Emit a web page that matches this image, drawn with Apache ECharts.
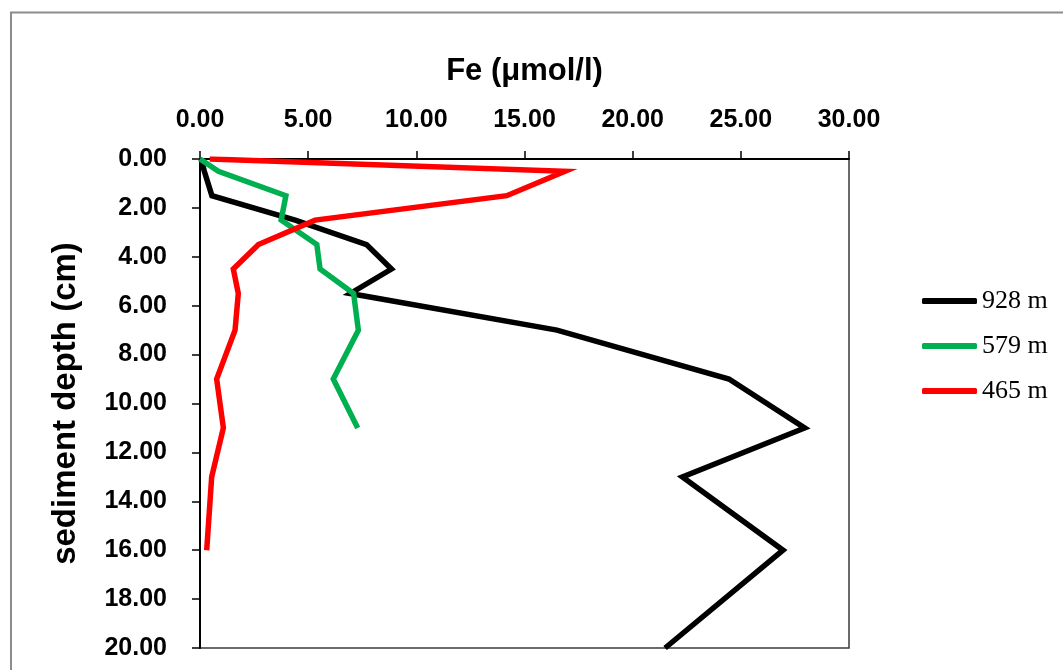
<!DOCTYPE html>
<html>
<head>
<meta charset="utf-8">
<script src="https://cdn.jsdelivr.net/npm/echarts@6/dist/echarts.min.js"></script>
<style>
html,body{margin:0;padding:0;background:#fff;}
#chart{width:1063px;height:670px;}
</style>
</head>
<body>
<div id="chart"></div>
<script>
// Sediment depth (cm) for each sample
var depths = [0, 0.5, 1.5, 2.5, 3.5, 4.5, 5.5, 7, 9, 11, 13, 16, 20];
// Fe (µmol/l) per station
var seriesNames = ['928 m', '579 m', '465 m'];
var fe928 = [0.05, 0.2, 0.55, 4.4, 7.7, 8.85, 6.95, 16.5, 24.45, 27.95, 22.3, 26.95, 21.5];
var fe579 = [0, 0.85, 3.97, 3.75, 5.4, 5.55, 7.1, 7.32, 6.16, 7.29];
var fe465 = [0.45, 16.87, 14.18, 5.32, 2.7, 1.54, 1.77, 1.62, 0.77, 1.08, 0.54, 0.31];
var xTicks = [0, 5, 10, 15, 20, 25, 30];
var yTicks = [0, 2, 4, 6, 8, 10, 12, 14, 16, 18, 20];

function pairs(vals) {
  return vals.map(function (v, i) { return [v, depths[i]]; });
}
var colors = ['#000000', '#00B050', '#FF0000'];
var allVals = [fe928, fe579, fe465];

var chart = echarts.init(document.getElementById('chart'), null, {renderer: 'canvas'});
var sans = 'Liberation Sans, Arial, sans-serif';
chart.setOption({
  animation: false,
  backgroundColor: '#fff',
  grid: {left: 200, top: 159, right: 214, bottom: 22, show: true, borderColor: '#3a3a3a', borderWidth: 1.5, backgroundColor: 'transparent'},
  legend: {
    orient: 'vertical', left: 922, top: 288, padding: 0, itemWidth: 55, itemHeight: 6, itemGap: 19,
    icon: 'roundRect',
    textStyle: {fontFamily: 'Liberation Serif, Times New Roman, serif', fontSize: 26, color: '#000'},
    data: seriesNames
  },
  xAxis: {
    type: 'value', position: 'top', min: xTicks[0], max: xTicks[xTicks.length - 1], interval: 5,
    name: 'Fe (\u03bcmol/l)', nameLocation: 'middle', nameGap: 72,
    nameTextStyle: {fontFamily: sans, fontWeight: 'bold', fontSize: 31, color: '#000'},
    axisLine: {show: true, lineStyle: {color: '#000', width: 2}},
    axisTick: {show: true, inside: false, length: 8, lineStyle: {color: '#000', width: 1.5}},
    axisLabel: {margin: 26, fontFamily: sans, fontWeight: 'bold', fontSize: 25, color: '#000',
      formatter: function (v) { return v.toFixed(2); }},
    splitLine: {show: false}
  },
  yAxis: {
    type: 'value', inverse: true, min: yTicks[0], max: yTicks[yTicks.length - 1], interval: 2,
    name: 'sediment depth (cm)', nameLocation: 'middle', nameGap: 118, nameRotate: 90,
    nameTextStyle: {fontFamily: sans, fontWeight: 'bold', fontSize: 33, color: '#000', padding: [0, 0, 0, 0]},
    axisLine: {show: true, lineStyle: {color: '#000', width: 2}},
    axisTick: {show: true, inside: false, length: 8, lineStyle: {color: '#000', width: 1.5}},
    axisLabel: {margin: 33, fontFamily: sans, fontWeight: 'bold', fontSize: 25, color: '#000',
      formatter: function (v) { return v.toFixed(2); }},
    splitLine: {show: false}
  },
  graphic: [{
    type: 'polyline', silent: true, z: 100,
    shape: {points: [[11, 680], [11, 12.5], [1080, 12.5]]},
    style: {stroke: '#8c8c8c', lineWidth: 2, fill: null}
  }],
  series: seriesNames.map(function (n, i) {
    return {
      name: n, type: 'line', showSymbol: false, symbol: 'none',
      data: pairs(allVals[i]),
      lineStyle: {color: colors[i], width: 5.5, join: 'miter'},
      itemStyle: {color: colors[i]},
      z: 2 + i
    };
  })
});
</script>
</body>
</html>
